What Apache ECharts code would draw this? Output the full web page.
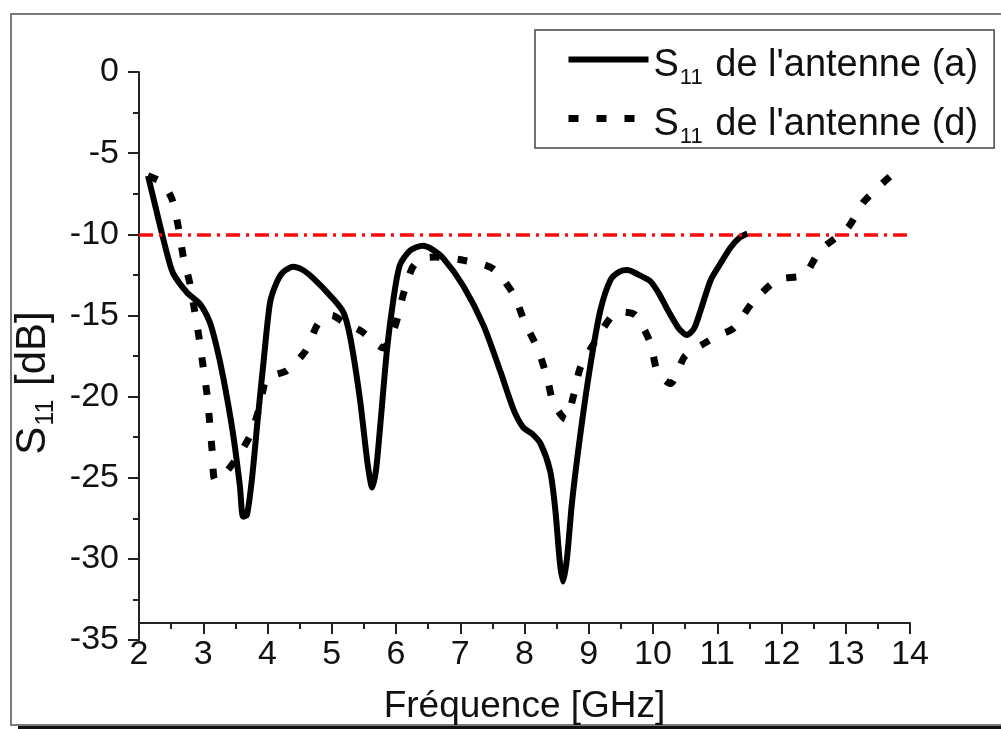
<!DOCTYPE html>
<html>
<head>
<meta charset="utf-8">
<script src="https://cdn.jsdelivr.net/npm/echarts@6/dist/echarts.min.js"></script>
<style>
html,body{margin:0;padding:0;background:#fff;}
#chart{width:1001px;height:729px;}
</style>
</head>
<body>
<div id="chart"></div>
<script>
// ---- data ----
var seriesNames = ["S11 de l'antenne (a)", "S11 de l'antenne (d)"];
var xTitle = "Fréquence [GHz]";
var yTitle = ["S", "11", " [dB]"];
var threshold = -10;
var xRange = [2, 14];
var yRange = [-35, 0];

var antennaA = [
 [2.14,-6.4],[2.25,-8.2],[2.36,-10.0],[2.45,-11.4],[2.53,-12.4],[2.75,-13.6],[2.95,-14.3],[3.1,-15.4],[3.2,-16.8],
 [3.31,-18.8],[3.46,-22.2],[3.57,-25.5],[3.62,-27.4],[3.68,-27.3],[3.76,-25.0],[3.85,-21.3],[3.94,-17.8],[4.04,-14.2],
 [4.15,-12.9],[4.25,-12.3],[4.4,-12.0],[4.55,-12.2],[4.71,-12.7],[4.98,-13.8],[5.18,-14.8],[5.29,-16.4],[5.44,-20.2],
 [5.56,-24.2],[5.63,-25.6],[5.69,-24.5],[5.75,-22.0],[5.86,-17.1],[5.96,-14.0],[6.06,-11.9],[6.22,-11.0],[6.42,-10.7],
 [6.55,-10.9],[6.74,-11.5],[7.05,-13.2],[7.36,-15.6],[7.62,-18.4],[7.83,-20.8],[7.98,-21.9],[8.12,-22.3],[8.25,-22.9],
 [8.4,-24.6],[8.48,-27.0],[8.55,-30.2],[8.6,-31.4],[8.66,-30.0],[8.74,-26.5],[8.87,-22.3],[9.02,-18.2],[9.18,-14.7],
 [9.34,-12.8],[9.48,-12.3],[9.6,-12.2],[9.78,-12.5],[9.96,-12.9],[10.1,-13.7],[10.22,-14.6],[10.4,-15.8],[10.53,-16.2],
 [10.64,-15.8],[10.74,-14.7],[10.9,-12.8],[11.05,-11.8],[11.21,-10.8],[11.35,-10.2],[11.47,-9.95]
];
var antennaD = [
 [2.14,-6.4],[2.35,-6.8],[2.51,-7.8],[2.61,-9.5],[2.69,-11.4],[2.79,-13.0],[2.87,-14.8],[2.94,-16.5],[3.0,-18.2],
 [3.06,-19.9],[3.1,-21.6],[3.14,-23.4],[3.18,-25.1],[3.3,-24.9],[3.52,-23.8],[3.73,-22.4],[3.88,-20.6],[3.99,-18.9],
 [4.3,-18.4],[4.59,-17.2],[4.79,-15.5],[5.0,-15.0],[5.18,-15.4],[5.47,-16.0],[5.8,-17.0],[5.99,-15.6],[6.1,-13.9],
 [6.25,-12.1],[6.4,-11.5],[6.61,-11.4],[7.05,-11.6],[7.5,-12.1],[7.83,-13.7],[8.01,-15.5],[8.2,-17.0],[8.35,-18.8],
 [8.45,-20.4],[8.64,-21.4],[8.76,-20.0],[8.87,-18.2],[9.1,-16.6],[9.37,-15.0],[9.55,-14.8],[9.73,-15.0],[9.96,-16.7],
 [10.07,-18.5],[10.27,-19.2],[10.5,-17.5],[10.85,-16.6],[10.97,-16.3],[11.25,-15.8],[11.55,-14.2],[11.94,-12.8],
 [12.35,-12.5],[12.6,-11.0],[13.03,-9.6],[13.28,-8.0],[13.7,-6.4]
];

// ---- chart ----
var FONT = 'Liberation Sans, Arial, sans-serif';
var chart = echarts.init(document.getElementById('chart'), null, {renderer: 'canvas'});

function subRich(big, small, extraTop) {
  var lh = Math.round(big * 1.2);
  return {
    m: {fontSize: big, fontFamily: FONT, color: '#111', lineHeight: lh, padding: [extraTop, 0, 0, 0]},
    s: {fontSize: small, fontFamily: FONT, color: '#111', lineHeight: small,
        padding: [extraTop + Math.round(big * 0.62), 2, 0, 1]}
  };
}

var solidStyle = {color: '#000', width: 6, type: 'solid'};
var dotStyle = {color: '#000', width: 7, type: [10, 18], cap: 'butt'};

var option = {
  animation: false,
  backgroundColor: '#fff',
  graphic: [
    {type: 'rect', shape: {x: 11, y: 14, width: 1100, height: 711}, style: {fill: 'none', stroke: '#7a7a7a', lineWidth: 2}, silent: true},
    {type: 'line', shape: {x1: 18, y1: 727.5, x2: 1001, y2: 727.5}, style: {stroke: '#111', lineWidth: 3}, silent: true}
  ],
  grid: {left: 139, right: 91, top: 72, bottom: 89, containLabel: false, outerBoundsMode: 'none'},
  legend: {
    orient: 'vertical',
    left: 535, top: 30,
    padding: [0, 16, 0, 30],
    itemGap: 0,
    itemWidth: 80, itemHeight: 14,
    borderColor: '#444', borderWidth: 1.5,
    backgroundColor: '#fff',
    selectedMode: false,
    itemStyle: {opacity: 0},
    data: [
      {name: seriesNames[0], lineStyle: {width: 6, type: 'solid', color: '#000'}},
      {name: seriesNames[1], lineStyle: {width: 7, type: [10, 18], color: '#000', cap: 'butt'}}
    ],
    formatter: function (name) {
      return '{m|S}{s|11}{m|' + name.slice(3) + '}';
    },
    textStyle: {rich: subRich(38, 22, 13)}
  },
  xAxis: {
    type: 'value', min: xRange[0], max: xRange[1], interval: 1,
    offset: -17,
    name: xTitle, nameLocation: 'middle', nameGap: 65,
    nameTextStyle: {fontSize: 37, fontFamily: FONT, color: '#111'},
    axisLine: {show: true, onZero: false, lineStyle: {color: '#222', width: 2}},
    axisTick: {show: true, inside: false, length: 11, lineStyle: {color: '#222', width: 2}},
    minorTick: {show: true, splitNumber: 2, length: 6, lineStyle: {color: '#222', width: 2}},
    axisLabel: {fontSize: 34, fontFamily: FONT, color: '#111', margin: 15},
    splitLine: {show: false}
  },
  yAxis: {
    type: 'value', min: yRange[0], max: yRange[1], interval: 5,
    name: '{m|' + yTitle[0] + '}{s|' + yTitle[1] + '}{m|' + yTitle[2] + '}',
    nameLocation: 'middle', nameGap: 74, nameRotate: 90,
    nameTextStyle: {padding: [0, 54, 0, 0], rich: subRich(42, 25, 0)},
    axisLine: {show: true, onZero: false, lineStyle: {color: '#222', width: 2}},
    axisTick: {show: true, inside: false, length: 11, lineStyle: {color: '#222', width: 2}},
    minorTick: {show: true, splitNumber: 2, length: 6, lineStyle: {color: '#222', width: 2}},
    axisLabel: {fontSize: 34, fontFamily: FONT, color: '#111', margin: 20},
    splitLine: {show: false}
  },
  series: [
    {
      name: seriesNames[0], type: 'line', data: antennaA,
      showSymbol: false, symbol: 'none', smooth: 0.25,
      lineStyle: solidStyle,
      itemStyle: {color: '#000'},
      markLine: {
        silent: true, symbol: 'none', label: {show: false},
        lineStyle: {color: '#ff0a0a', width: 3.5, type: [14, 6, 3, 6], cap: 'butt'},
        data: [{yAxis: threshold}]
      },
      z: 3
    },
    {
      name: seriesNames[1], type: 'line', data: antennaD,
      showSymbol: false, symbol: 'none', smooth: 0.25,
      lineStyle: dotStyle,
      itemStyle: {color: '#000'},
      z: 2
    }
  ]
};
chart.setOption(option);
</script>
</body>
</html>
